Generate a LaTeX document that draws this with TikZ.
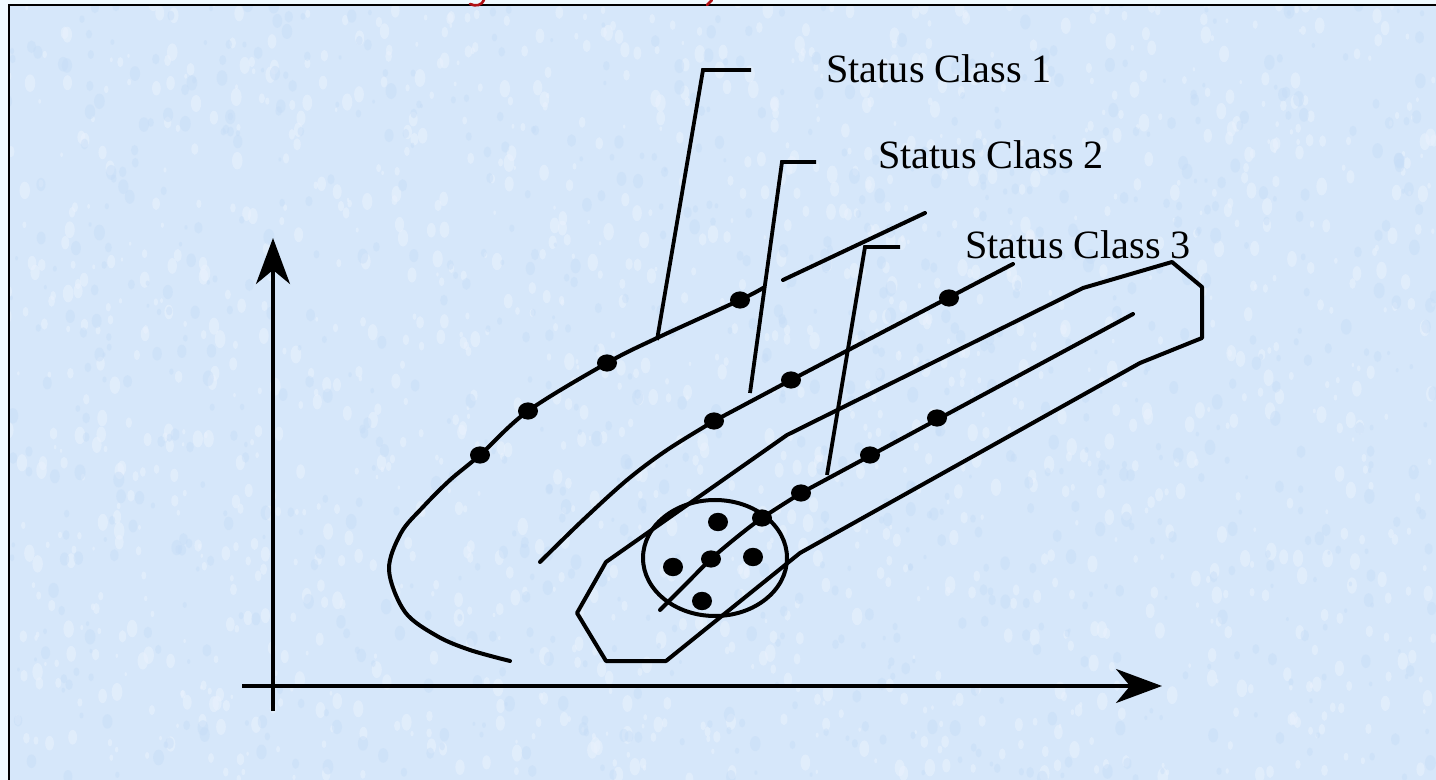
\documentclass[tikz,border=0pt]{standalone}
\usepackage{fontspec}
\setmainfont{Liberation Serif}
\usetikzlibrary{arrows.meta}

\definecolor{paper}{RGB}{214,231,250}
\definecolor{paperlight}{RGB}{234,242,253}
\definecolor{paperdark}{RGB}{198,221,247}
\definecolor{titlered}{RGB}{176,16,20}
\definecolor{outside}{RGB}{240,250,255}

\tikzset{
  curve/.style={line width=2pt, line cap=round, line join=round},
  leader/.style={line width=1.9pt, line join=miter},
  axis/.style={line width=1.8pt, -{Stealth[length=23pt, width=17pt, inset=7pt]}},
  dot/.style={fill=black},
  label/.style={font=\fontsize{20.1}{24}\selectfont, inner sep=0pt, anchor=base west},
}

\begin{document}
\begin{tikzpicture}[x=0.5pt, y=-0.5pt]
  % page and slide background
  \fill[outside] (0,0) rectangle (1436,780);
  \useasboundingbox (0,0) rectangle (1436,780);
  \fill[paper] (9,5) rectangle (1436,780);

  % fine-grained paper texture
  \begin{scope}
    \clip (9,5) rectangle (1436,780);
    \pgfmathsetseed{4242}
    \foreach \i in {1,...,1400}{
      \pgfmathsetmacro\xx{rnd*1436}
      \pgfmathsetmacro\yy{rnd*780}
      \pgfmathsetmacro\rr{1+rnd*3.5}
      \fill[paperlight, opacity=0.55] (\xx,\yy) ellipse[x radius=0.6*\rr pt, y radius=\rr pt];
    }
    \foreach \i in {1,...,900}{
      \pgfmathsetmacro\xx{rnd*1436}
      \pgfmathsetmacro\yy{rnd*780}
      \pgfmathsetmacro\rr{1+rnd*3}
      \fill[paperdark, opacity=0.45] (\xx,\yy) ellipse[x radius=0.7*\rr pt, y radius=\rr pt];
    }
  \end{scope}

  % slide frame
  \draw[line width=1.3pt] (1436,5) -- (9,5) -- (9,780);

  % fragments of the red heading above the frame
  \draw[titlered, line width=1.3pt, line cap=round] (484,0) .. controls (482,5) and (476,7) .. (470,4);
  \draw[titlered, line width=1.3pt, line cap=round] (712,0) -- (707,5);

  % axes
  \draw[axis] (273,711) -- (273,238);
  \draw[axis] (242,686) -- (1162,686);

  % ---- status class 1 ----
  \coordinate (a1) at (480,455);
  \coordinate (a2) at (528,411);
  \coordinate (a3) at (607,363);
  \coordinate (a4) at (740,300);
  \draw[curve] plot[smooth, tension=0.55] coordinates {
    (510,661) (470,650) (437,636) (405,612) (389,570) (401,533)
    (423,507) (450,480) (480,455) (528,411) (607,363) (657,338) (740,300) (763,288)};
  \draw[curve] (783,280) -- (925,213);

  % ---- status class 2 ----
  \coordinate (b1) at (714,421);
  \coordinate (b2) at (791,380);
  \coordinate (b3) at (949,298);
  \draw[curve] plot[smooth, tension=0.55] coordinates {
    (540,562) (583,520) (627,480) (667,450) (714,421)} -- (b2) -- (1013,264);

  % ---- status class 3 ----
  \draw[curve] (606,562) -- (577,613) -- (606,661) -- (666,661) -- (800,553)
    -- (1140,363) -- (1202,338) -- (1202,287) -- (1172,262) -- (1083,288)
    -- (787,435) -- cycle;
  \coordinate (c1) at (711,559);
  \coordinate (c2) at (762,518);
  \coordinate (c3) at (801,493);
  \coordinate (c4) at (870,455);
  \coordinate (c5) at (937,418);
  \draw[curve] plot[smooth, tension=0.5] coordinates {
    (660,610) (686,584) (c1) (737,537) (c2) (c3)} -- (1133,314);

  % cluster circle and its members
  \draw[curve] (715,558) ellipse[x radius=36pt, y radius=29pt];
  \foreach \p in {(718,522), (673,567), (753,557), (702,601)}
    \fill[dot] \p ellipse[x radius=5pt, y radius=4.6pt];

  % samples on the trajectories
  \foreach \p in {a1,a2,a3,a4,b1,b2,b3,c1,c2,c3,c4,c5}
    \fill[dot] (\p) ellipse[x radius=5pt, y radius=4.3pt];

  % labels
  \node[label] (lab1) at (826,83) {Status Class 1};
  \node[label] (lab2) at (878,169) {Status Class 2};
  \node[label] (lab3) at (965,259) {Status Class 3};

  % leaders from the labels to their trajectories
  \coordinate (k1) at (703,70);  \coordinate (e1) at (751,70);  \coordinate (f1) at (657,340);
  \coordinate (k2) at (782,162); \coordinate (e2) at (816,162); \coordinate (f2) at (750,393);
  \coordinate (k3) at (865,247); \coordinate (e3) at (900,247); \coordinate (f3) at (827,475);
  \draw[leader] (f1) -- (k1) -- (e1);
  \draw[leader] (f2) -- (k2) -- (e2);
  \draw[leader] (f3) -- (k3) -- (e3);
\end{tikzpicture}
\end{document}
